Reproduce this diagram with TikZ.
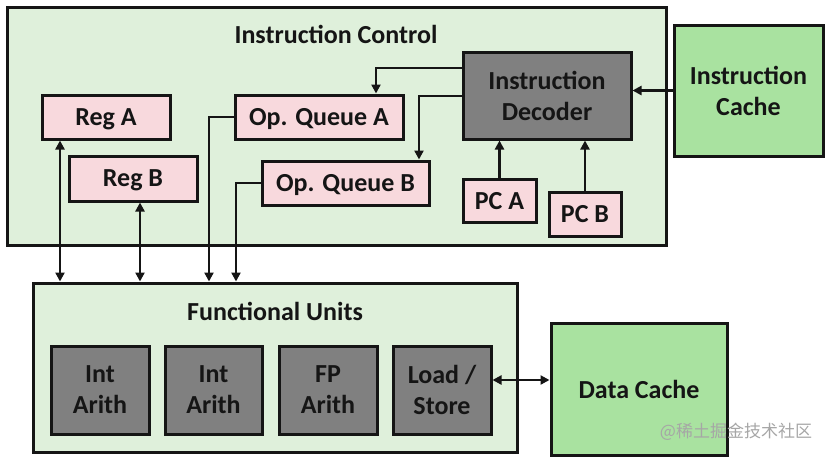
\documentclass[tikz,border=0pt]{standalone}
\usepackage{fontspec}
\setmainfont{Carlito}
\newfontfamily\cjk{Noto Sans CJK SC}
\usetikzlibrary{arrows.meta,calc}
\definecolor{bgreen}{HTML}{DFF0DB}
\definecolor{pinkbox}{HTML}{F8D9DD}
\definecolor{darkbox}{HTML}{808080}
\definecolor{cachegreen}{HTML}{A9E2A0}
\definecolor{ink}{HTML}{151515}
\tikzset{
  x=1pt, y=-1pt,
  every node/.style={font=\bfseries\fontsize{26}{31}\selectfont, text=ink, align=center, inner sep=0pt},
  container/.style={draw=ink, line width=3pt, fill=bgreen},
  pinkbox/.style={draw=ink, line width=3pt, fill=pinkbox, text depth=0pt},
  greybox/.style={draw=ink, line width=3pt, fill=darkbox},
  cachebox/.style={draw=ink, line width=3pt, fill=cachegreen},
  arr/.style={draw=ink, line width=2.8pt, -{Triangle[length=9pt,width=9pt]}},
  darr/.style={draw=ink, line width=2.8pt, {Triangle[length=9pt,width=9pt]}-{Triangle[length=9pt,width=9pt]}},
}
\begin{document}
\begin{tikzpicture}
\useasboundingbox (0,0) rectangle (828,456);
% containers
\node[container, minimum width=659pt, minimum height=238pt] (ic) at (336.5,126) {};
\node (ictitle) at (336,34) {Instruction Control};
\node[container, minimum width=484pt, minimum height=169pt] (fu) at (275,367.5) {};
\node (futitle) at (275,311) {Functional Units};
% instruction control boxes
\node[pinkbox, minimum width=128pt, minimum height=44pt] (rega) at (106,117) {Reg A};
\node[pinkbox, minimum width=128pt, minimum height=45pt] (regb) at (133,178.5) {Reg B};
\node[pinkbox, minimum width=168pt, minimum height=44pt] (oqa) at (319,117) {Op. Queue A};
\node[pinkbox, minimum width=167pt, minimum height=44pt] (oqb) at (345.5,183) {Op. Queue B};
\node[greybox, minimum width=168pt, minimum height=87pt] (dec) at (547,95.5) {Instruction\\Decoder};
\node[pinkbox, minimum width=73pt, minimum height=43pt] (pca) at (499.5,200.5) {PC A};
\node[pinkbox, minimum width=72pt, minimum height=44pt] (pcb) at (585,214) {PC B};
\node[cachebox, minimum width=149pt, minimum height=131pt] (icache) at (748.5,90.5) {Instruction\\Cache};
% functional units
\node[greybox, minimum width=98pt, minimum height=88pt] (int1) at (100,390) {Int\\Arith};
\node[greybox, minimum width=97pt, minimum height=88pt] (int2) at (213.5,390) {Int\\Arith};
\node[greybox, minimum width=98pt, minimum height=88pt] (fp) at (328,390) {FP\\Arith};
\node[greybox, minimum width=98pt, minimum height=88pt] (ls) at (442,390) {Load /\\Store};
\node[cachebox, minimum width=176pt, minimum height=132pt, text depth=0pt] (dc) at (639,389) {Data Cache};
% watermark
\node[font=\cjk\fontsize{17}{17}\selectfont, text=black!35] (wm) at (736,432) {@稀土掘金技术社区};
% helper coordinates
\coordinate (ra) at (60,0);
\coordinate (rb) at (140,0);
\coordinate (qa) at (209,0);
\coordinate (qb) at (236,0);
\coordinate (d1) at (0,68);
\coordinate (d2) at (0,96);
\coordinate (qat) at (376,0);
\coordinate (qbt) at (419,0);
\coordinate (ldc) at (0,380);
% connectors
\draw[arr] (dec.west |- d1) -| (qat |- oqa.north);
\draw[arr] (dec.west |- d2) -| (qbt |- oqb.north);
\draw[arr] (pca.north) -- (pca.north |- dec.south);
\draw[arr] (pcb.north) -- (pcb.north |- dec.south);
\draw[arr] (icache.west) -- (icache.west -| dec.east);
\draw[darr] (ra |- rega.south) -- (ra |- fu.north);
\draw[darr] (rb |- regb.south) -- (rb |- fu.north);
\draw[arr] (oqa.west) -| (qa |- fu.north);
\draw[arr] (oqb.west) -| (qb |- fu.north);
\draw[darr] (ls.east |- ldc) -- (dc.west |- ldc);
\end{tikzpicture}
\end{document}
